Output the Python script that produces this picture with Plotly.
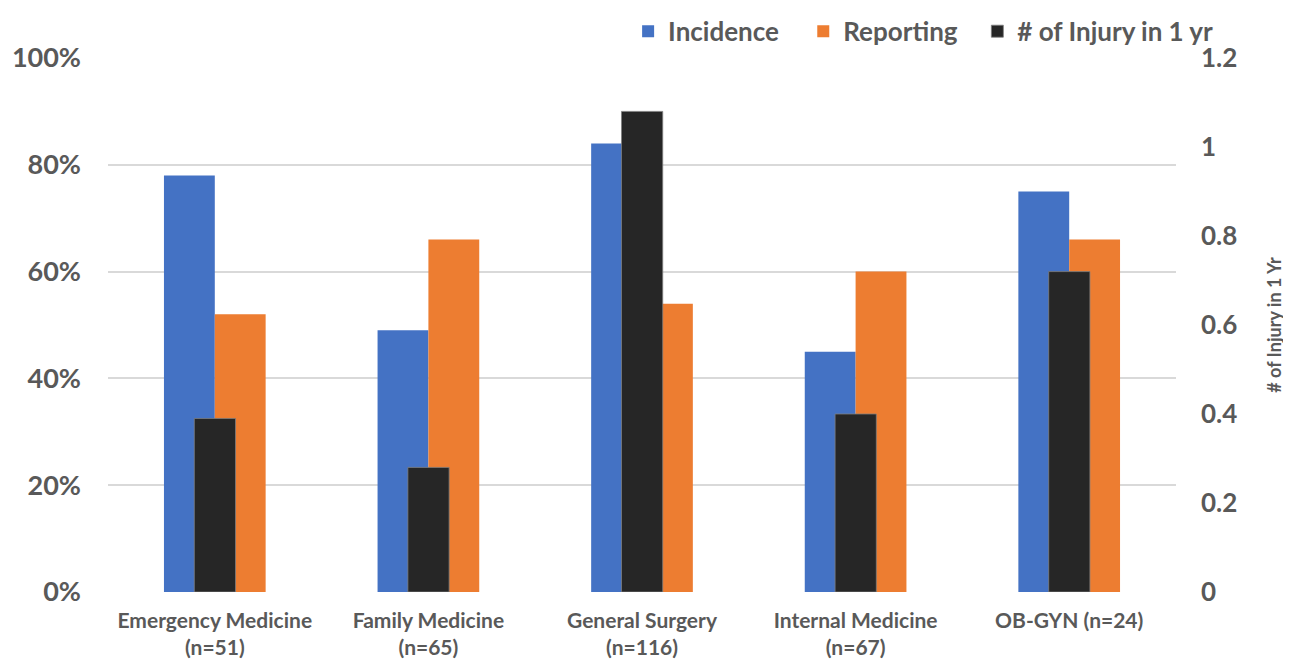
import plotly.graph_objects as go

categories = ["Emergency Medicine<br>(n=51)", "Family Medicine<br>(n=65)",
              "General Surgery<br>(n=116)", "Internal Medicine<br>(n=67)",
              "OB-GYN (n=24)"]
incidence = [78, 49, 84, 45, 75]          # %
reporting = [52, 66, 54, 60, 66]          # %
injuries = [0.39, 0.28, 1.08, 0.40, 0.72]  # number of injuries in 1 yr
left_ticks = [0, 20, 40, 60, 80, 100]
left_labels = ["0%", "20%", "40%", "60%", "80%", "100%"]
right_ticks = [0, 0.2, 0.4, 0.6, 0.8, 1.0, 1.2]
right_labels = ["0", "0.2", "0.4", "0.6", "0.8", "1", "1.2"]

BLUE = "#4472C4"
ORANGE = "#ED7D31"
DARK = "#262626"
TXT = "#595959"
FONT = "Lato"

fig = go.Figure()
fig.add_trace(go.Bar(x=categories, y=incidence, name="Incidence",
                     marker=dict(color=BLUE, line=dict(width=0)),
                     offset=-0.238, width=0.238, legend="legend", showlegend=True))
fig.add_trace(go.Bar(x=categories, y=reporting, name="Reporting",
                     marker=dict(color=ORANGE, line=dict(width=0)),
                     offset=0.0, width=0.238, legend="legend2", showlegend=True))
fig.add_trace(go.Bar(x=categories, y=injuries, name="# of Injury in 1 yr",
                     marker=dict(color=DARK, line=dict(width=0.8, color="#7f7f7f")),
                     offset=-0.096, width=0.193, yaxis="y2", legend="legend3",
                     showlegend=True))

leg_font = dict(size=26, family=FONT, color=TXT, weight="bold")


def leg(x):
    return dict(orientation="h", x=x, xanchor="left", y=1.05, yanchor="middle",
                font=leg_font, bgcolor="rgba(0,0,0,0)", itemclick=False)


fig.update_layout(
    width=1283, height=651,
    margin=dict(l=100, r=115, t=50, b=67, autoexpand=False),
    paper_bgcolor="white", plot_bgcolor="white",
    barmode="overlay",
    showlegend=True,
    font=dict(family=FONT, color=TXT, size=18, weight="bold"),
    legend=leg(0.487),
    legend2=leg(0.651),
    legend3=leg(0.814),
    xaxis=dict(type="category", showgrid=False, showline=False, zeroline=False,
               ticks="", tickfont=dict(size=21, family=FONT, color=TXT, weight="bold"),
               ticklabelstandoff=14, range=[-0.5, 4.5]),
    yaxis=dict(range=[0, 100], tickvals=left_ticks, ticktext=left_labels,
               showgrid=True, gridcolor="#d9d9d9", gridwidth=2,
               zeroline=False, showline=False, ticks="",
               tickfont=dict(size=27, family=FONT, color=TXT, weight="bold"),
               ticklabelstandoff=26),
    yaxis2=dict(range=[0, 1.2], tickvals=right_ticks, ticktext=right_labels,
                overlaying="y", side="right", showgrid=False, zeroline=False,
                showline=False, ticks="",
                tickfont=dict(size=26, family=FONT, color=TXT, weight="bold"),
                ticklabelstandoff=24,
                title=dict(text="# of Injury in 1 Yr", standoff=32,
                           font=dict(size=18, family=FONT, color=TXT, weight="bold"))),
)

fig.write_html("out.html")
